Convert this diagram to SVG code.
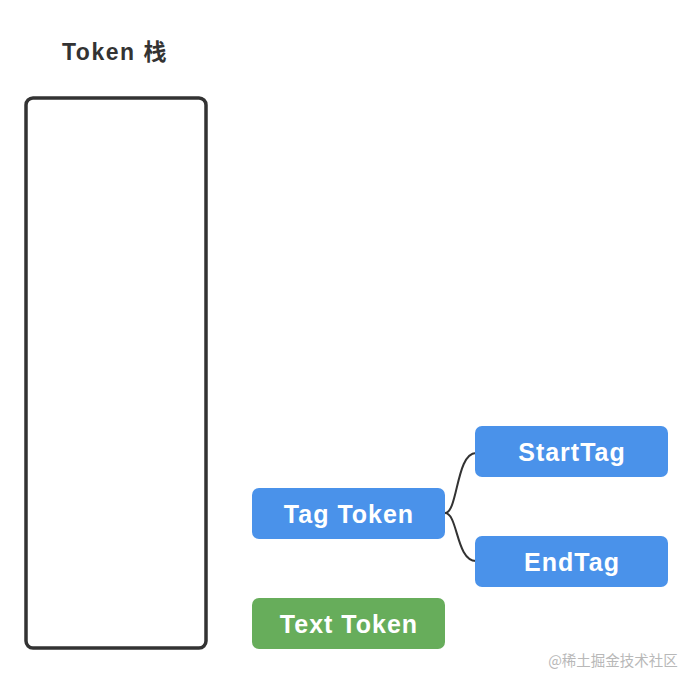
<svg xmlns="http://www.w3.org/2000/svg" width="698" height="686" viewBox="0 0 698 686">
<style>
.lbl{font-family:"Comic Sans MS","Liberation Sans","Noto Sans",sans-serif;font-weight:bold;font-size:25px;letter-spacing:1px;fill:#ffffff;text-anchor:middle;dominant-baseline:central}
.blue{fill:#4a92ea}
.green{fill:#67ad5b}
.conn{fill:none;stroke:#333333;stroke-width:2}
</style>
<rect width="698" height="686" fill="#ffffff"/>
<g id="title">
<text x="115" y="52" font-family="'Liberation Sans','Noto Sans CJK SC',sans-serif" font-weight="bold" font-size="23" letter-spacing="1.5" fill="#333333" text-anchor="middle" dominant-baseline="central">Token 栈</text>
</g>
<g id="stack">
<rect x="26" y="98" width="180" height="550" rx="7" fill="none" stroke="#333333" stroke-width="3.5"/>
</g>
<g id="connectors">
<path class="conn" d="M445,513 C458,513 456,453 476,453"/>
<path class="conn" d="M445,513 C458,513 456,561 476,561"/>
</g>
<g id="tag-token">
<rect class="blue" x="252" y="488" width="193" height="51" rx="7"/>
<text class="lbl" x="349" y="514">Tag Token</text>
</g>
<g id="start-tag">
<rect class="blue" x="475" y="426" width="193" height="51" rx="7"/>
<text class="lbl" x="572" y="452">StartTag</text>
</g>
<g id="end-tag">
<rect class="blue" x="475" y="536" width="193" height="51" rx="7"/>
<text class="lbl" x="572" y="562">EndTag</text>
</g>
<g id="text-token">
<rect class="green" x="252" y="598" width="193" height="51" rx="7"/>
<text class="lbl" x="349" y="624">Text Token</text>
</g>
<g id="watermark">
<text x="613" y="659" font-family="'Noto Sans CJK SC',sans-serif" font-size="14.5" fill="#b8b8b8" text-anchor="middle" dominant-baseline="central">@稀土掘金技术社区</text>
</g>
</svg>
